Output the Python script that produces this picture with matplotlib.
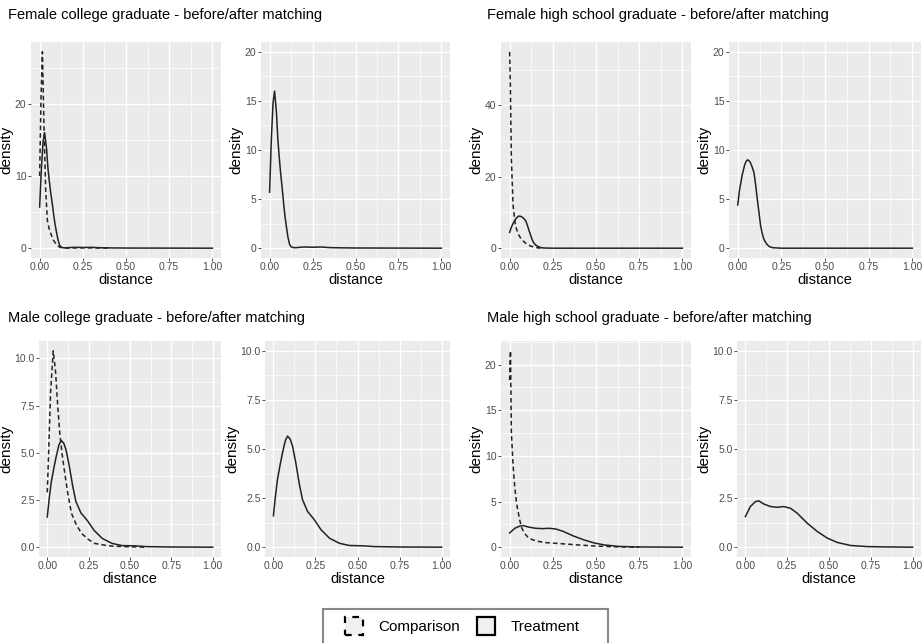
import matplotlib
matplotlib.use("Agg")
import matplotlib.pyplot as plt
from matplotlib.patches import Patch, Rectangle
from matplotlib.ticker import FixedLocator, FixedFormatter

plt.rcParams['font.family'] = ['Liberation Sans', 'DejaVu Sans']

# ---- data (distance, density) ----
# female college graduate
fc_comp_d = [0, 0.008, 0.016, 0.025, 0.035, 0.045, 0.055, 0.065, 0.08, 0.1, 0.12, 0.15, 0.25, 0.4]
fc_comp_v = [10, 21, 27.2, 17, 8, 3.8, 2.7, 2.0, 1.1, 0.4, 0.1, 0.02, 0.05, 0.02]
fc_treat_d = [0, 0.01, 0.02, 0.029, 0.04, 0.048, 0.056, 0.064, 0.074, 0.083, 0.09, 0.097, 0.106,
              0.116, 0.125, 0.135, 0.15, 0.2, 0.25, 0.3, 0.35, 0.4, 0.5, 0.75, 1.0]
fc_treat_v = [5.7, 11.0, 14.8, 16.0, 13.8, 11.1, 9.3, 7.7, 6.0, 4.3, 3.2, 2.3, 1.2,
              0.4, 0.15, 0.07, 0.05, 0.12, 0.1, 0.12, 0.06, 0.04, 0.02, 0.01, 0.0]

# female high school graduate
fh_comp_d = [0, 0.004, 0.01, 0.02, 0.03, 0.04, 0.055, 0.068, 0.09, 0.116, 0.14, 0.17, 0.2]
fh_comp_v = [55, 46.6, 25, 12, 7.5, 5.3, 3.5, 2.5, 1.5, 0.7, 0.3, 0.05, 0.0]
fh_treat_d = [0, 0.01, 0.025, 0.04, 0.05, 0.058, 0.07, 0.08, 0.093, 0.103, 0.112, 0.122, 0.131,
              0.14, 0.15, 0.165, 0.18, 0.2, 0.25, 0.5, 0.75, 1.0]
fh_treat_v = [4.4, 5.9, 7.4, 8.5, 8.9, 9.0, 8.8, 8.4, 7.7, 6.4, 5.0, 3.6, 2.3,
              1.5, 0.9, 0.45, 0.17, 0.05, 0.0, 0.0, 0.0, 0.0]

# male college graduate
mc_comp_d = [0, 0.01, 0.02, 0.036, 0.05, 0.063, 0.076, 0.09, 0.106, 0.125, 0.146, 0.175, 0.206,
             0.25, 0.286, 0.35, 0.4, 0.5, 0.6]
mc_comp_v = [2.9, 5.5, 8.2, 10.4, 9.3, 7.5, 6.0, 4.9, 3.9, 2.8, 1.8, 1.2, 0.74,
             0.4, 0.2, 0.1, 0.05, 0.02, 0.0]
mc_treat_d = [0, 0.012, 0.024, 0.04, 0.054, 0.07, 0.084, 0.1, 0.114, 0.133, 0.153, 0.173, 0.203,
              0.243, 0.283, 0.333, 0.392, 0.452, 0.532, 0.6, 0.75, 1.0]
mc_treat_v = [1.6, 2.6, 3.44, 4.2, 4.8, 5.4, 5.66, 5.5, 5.14, 4.3, 3.27, 2.42, 1.82,
              1.4, 0.89, 0.46, 0.2, 0.085, 0.07, 0.03, 0.01, 0.0]

# male high school graduate
mh_comp_d = [0, 0.002, 0.005, 0.01, 0.02, 0.029, 0.04, 0.058, 0.07, 0.087, 0.11, 0.135, 0.17,
             0.21, 0.3, 0.386, 0.5, 0.6, 0.75]
mh_comp_v = [18.3, 20, 21.5, 12.5, 9.0, 6.7, 4.8, 3.0, 2.1, 1.5, 1.0, 0.8, 0.62,
             0.5, 0.38, 0.26, 0.12, 0.05, 0.0]
mh_treat_d = [0, 0.03, 0.06, 0.08, 0.11, 0.15, 0.19, 0.23, 0.27, 0.31, 0.37, 0.43, 0.49,
              0.55, 0.63, 0.73, 0.83, 1.0]
mh_treat_v = [1.56, 2.07, 2.32, 2.36, 2.2, 2.07, 2.03, 2.07, 1.98, 1.73, 1.22, 0.8, 0.46,
              0.24, 0.085, 0.03, 0.015, 0.0]

x_ticks = [0, 0.25, 0.5, 0.75, 1.0]
x_labels = ["0.00", "0.25", "0.50", "0.75", "1.00"]

titles = ["Female college graduate - before/after matching",
          "Female high school graduate - before/after matching",
          "Male college graduate - before/after matching",
          "Male high school graduate - before/after matching"]

W, H = 922, 643
fig = plt.figure(figsize=(W / 100, H / 100), dpi=100)


def px_axes(x0, x1, ytop, ybot):
    return fig.add_axes([x0 / W, (H - ybot) / H, (x1 - x0) / W, (ybot - ytop) / H])


def gg_panel(ax, lines, yticks, ylabels, ylim):
    ax.set_facecolor('#EBEBEB')
    for s in ax.spines.values():
        s.set_visible(False)
    ax.set_xlim(-0.05, 1.05)
    ax.set_ylim(*ylim)
    # minor grid
    xminor = [0.125, 0.375, 0.625, 0.875]
    step = yticks[1] - yticks[0]
    yminor = [t + step / 2 for t in yticks] + [yticks[0] - step / 2]
    for xm in xminor:
        ax.axvline(xm, color='white', lw=0.5, zorder=0)
    for ym in yminor:
        if ylim[0] < ym < ylim[1]:
            ax.axhline(ym, color='white', lw=0.5, zorder=0)
    for xt in x_ticks:
        ax.axvline(xt, color='white', lw=1.0, zorder=0)
    for yt in yticks:
        ax.axhline(yt, color='white', lw=1.0, zorder=0)
    for d, v, ls in lines:
        if ls == 'dashed':
            ax.plot(d, v, color='#222222', lw=1.1, dashes=(3, 2), zorder=3)
        else:
            ax.plot(d, v, color='#222222', lw=1.1, zorder=3)
    ax.xaxis.set_major_locator(FixedLocator(x_ticks))
    ax.xaxis.set_major_formatter(FixedFormatter(x_labels))
    ax.yaxis.set_major_locator(FixedLocator(yticks))
    ax.yaxis.set_major_formatter(FixedFormatter(ylabels))
    ax.tick_params(axis='both', length=2, width=0.6, color='#333333',
                   labelsize=7.5, labelcolor='#4D4D4D', pad=1.2)
    ax.set_xlabel('distance', fontsize=10.5, labelpad=0.5)
    ax.set_ylabel('density', fontsize=11, labelpad=1)


panels = [
    ((31, 221, 42, 258), [(fc_treat_d, fc_treat_v, 'solid'), (fc_comp_d, fc_comp_v, 'dashed')],
     [0, 10, 20], ["0", "10", "20"], (-1.36, 28.56)),
    ((261, 450, 42, 258), [(fc_treat_d, fc_treat_v, 'solid')],
     [0, 5, 10, 15, 20], ["0", "5", "10", "15", "20"], (-1, 21)),
    ((501, 691, 42, 258), [(fh_treat_d, fh_treat_v, 'solid'), (fh_comp_d, fh_comp_v, 'dashed')],
     [0, 20, 40], ["0", "20", "40"], (-2.75, 57.75)),
    ((729, 921, 42, 258), [(fh_treat_d, fh_treat_v, 'solid')],
     [0, 5, 10, 15, 20], ["0", "5", "10", "15", "20"], (-1, 21)),
    ((39, 221, 341, 557), [(mc_treat_d, mc_treat_v, 'solid'), (mc_comp_d, mc_comp_v, 'dashed')],
     [0, 2.5, 5, 7.5, 10], ["0.0", "2.5", "5.0", "7.5", "10.0"], (-0.52, 10.92)),
    ((265, 450, 341, 557), [(mc_treat_d, mc_treat_v, 'solid')],
     [0, 2.5, 5, 7.5, 10], ["0.0", "2.5", "5.0", "7.5", "10.0"], (-0.5, 10.5)),
    ((501, 691, 341, 557), [(mh_treat_d, mh_treat_v, 'solid'), (mh_comp_d, mh_comp_v, 'dashed')],
     [0, 5, 10, 15, 20], ["0", "5", "10", "15", "20"], (-1.075, 22.575)),
    ((737, 921, 341, 557), [(mh_treat_d, mh_treat_v, 'solid')],
     [0, 2.5, 5, 7.5, 10], ["0.0", "2.5", "5.0", "7.5", "10.0"], (-0.5, 10.5)),
]

for box, lines, yt, yl, ylim in panels:
    ax = px_axes(*box)
    gg_panel(ax, lines, yt, yl, ylim)

# group titles
for i, (tx, ty) in enumerate([(8, 15), (487, 15), (8, 318), (487, 318)]):
    fig.text(tx / W, 1 - ty / H, titles[i], fontsize=10.5, va='center', ha='left')

# legend: frame drawn separately so it can be wider than the entries
fig.patches.append(Rectangle((323 / W, 1 - 646 / H), 285 / W, 37 / H, transform=fig.transFigure,
                             facecolor='white', edgecolor='#888888', linewidth=1.5, zorder=1))
handles = [Patch(facecolor='#F0F0F0', edgecolor='black', linestyle=(0, (3, 3)), linewidth=1.6, label='Comparison'),
           Patch(facecolor='#F0F0F0', edgecolor='black', linewidth=1.6, label='Treatment')]
leg = fig.legend(handles=handles, loc='center', bbox_to_anchor=(462 / W, 1 - 626 / H),
                 ncol=2, fontsize=11, frameon=False,
                 handlelength=1.2, handleheight=1.5, handletextpad=1.0, columnspacing=1.1,
                 borderpad=0.2, borderaxespad=0)
leg.set_zorder(2)

fig.savefig('out.png', dpi=100)
